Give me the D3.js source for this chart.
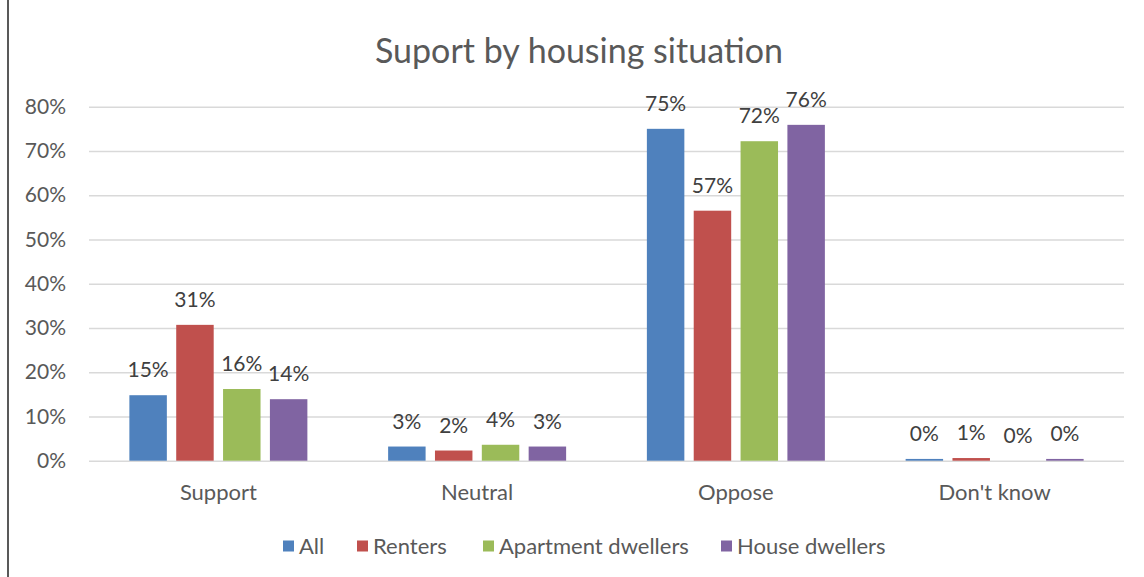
<!DOCTYPE html>
<html>
<head>
<meta charset="utf-8">
<script src="https://cdn.jsdelivr.net/npm/d3@7"></script>
<style>
  body { margin: 0; background: #fff; }
  svg { display: block; font-family: Lato, "Open Sans", sans-serif; }
</style>
</head>
<body>
<svg id="chart" width="1144" height="577"></svg>
<script>
// data
var categories = ["Support", "Neutral", "Oppose", "Don't know"];
var seriesNames = ["All", "Renters", "Apartment dwellers", "House dwellers"];
var seriesColors = ["#4F81BD", "#C0504D", "#9BBB59", "#8064A2"];
var allValues = [0.148, 0.032, 0.750, 0.004];
var renterValues = [0.307, 0.023, 0.565, 0.006];
var apartmentValues = [0.162, 0.036, 0.722, 0.000];
var houseValues = [0.139, 0.032, 0.759, 0.004];
var labelsText = [
  ["15%", "3%", "75%", "0%"],
  ["31%", "2%", "57%", "1%"],
  ["16%", "4%", "72%", "0%"],
  ["14%", "3%", "76%", "0%"]
];
var yTicks = [0, 0.1, 0.2, 0.3, 0.4, 0.5, 0.6, 0.7, 0.8];

var seriesValues = [allValues, renterValues, apartmentValues, houseValues];

var svg = d3.select('#chart');

// left border line
svg.append('line')
  .attr('x1', 8).attr('x2', 8)
  .attr('y1', 0).attr('y2', 577)
  .attr('stroke', '#595959')
  .attr('stroke-width', 2);

var x0 = d3.scaleBand().domain(categories).range([89, 1124]);
var x1 = d3.scaleBand().domain(seriesNames).range([-89, 89]).paddingInner(0.2);
var y = d3.scaleLinear().domain([0, 0.8]).range([460.7, 106.7]);

// title
svg.append('text')
  .attr('x', 579).attr('y', 63)
  .attr('text-anchor', 'middle')
  .attr('fill', '#595959')
  .style('font-size', '34px')
  .text('Suport by housing situation');

// gridlines + y labels
var yAxis = d3.axisLeft(y).tickValues(yTicks)
  .tickFormat(d3.format('.0%'))
  .tickSize(-(1124 - 89))
  .tickPadding(23);

var gy = svg.append('g')
  .attr('transform', 'translate(89,0)')
  .call(yAxis);
gy.select('.domain').remove();
gy.selectAll('.tick line').attr('stroke', '#d9d9d9').attr('stroke-width', 1.5);
gy.selectAll('.tick text')
  .attr('fill', '#595959')
  .style('font-size', '21px')
  .style('font-family', 'Lato, sans-serif');

// x category labels
var xAxis = d3.axisBottom(x0).tickSize(0).tickPadding(24);
var gx = svg.append('g')
  .attr('transform', 'translate(0,460.7)')
  .call(xAxis);
gx.select('.domain').remove();
gx.selectAll('.tick text')
  .attr('fill', '#595959')
  .style('font-size', '22px')
  .style('font-family', 'Lato, sans-serif');

// bars
var groups = svg.selectAll('.series')
  .data(seriesValues)
  .enter().append('g')
  .attr('class', 'series')
  .attr('fill', function(d, i) { return seriesColors[i]; });

groups.each(function(vals, si) {
  var g = d3.select(this);
  g.selectAll('rect')
    .data(vals)
    .enter().append('rect')
    .attr('x', function(d, ci) { return x0(categories[ci]) + x0.bandwidth() / 2 + x1(seriesNames[si]); })
    .attr('y', function(d) { return y(d); })
    .attr('width', x1.bandwidth())
    .attr('height', function(d) { return y(0) - y(d); });

  g.selectAll('text')
    .data(vals)
    .enter().append('text')
    .attr('x', function(d, ci) { return x0(categories[ci]) + x0.bandwidth() / 2 + x1(seriesNames[si]) + x1.bandwidth() / 2; })
    .attr('y', function(d) { return y(d) - 18; })
    .attr('text-anchor', 'middle')
    .attr('fill', '#404040')
    .style('font-size', '21px')
    .text(function(d, ci) { return labelsText[si][ci]; });
});

// legend
var legendX = [283, 357, 483, 721];
var legend = svg.selectAll('.legend')
  .data(seriesNames)
  .enter().append('g')
  .attr('class', 'legend')
  .attr('transform', function(d, i) { return 'translate(' + legendX[i] + ',546)'; });

legend.append('rect')
  .attr('x', 0).attr('y', -5.5)
  .attr('width', 11).attr('height', 11)
  .attr('fill', function(d, i) { return seriesColors[i]; });

legend.append('text')
  .attr('x', 16).attr('y', 8)
  .attr('fill', '#595959')
  .style('font-size', '22px')
  .text(function(d) { return d; });
</script>
</body>
</html>
